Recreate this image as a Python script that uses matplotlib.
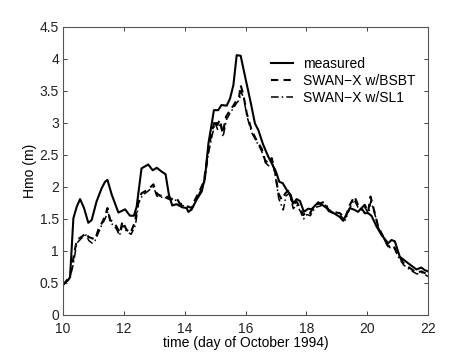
"""
Significant wave height, measured vs two SWAN-X runs, October 1994.
Values read by eye off the published figure.
"""

import matplotlib

matplotlib.use("Agg")
import matplotlib.pyplot as plt

plt.rcParams["font.family"] = ["Liberation Sans", "DejaVu Sans"]

# measured
t_meas = [10.0, 10.18, 10.23, 10.34, 10.45, 10.56, 10.69, 10.83, 10.94, 11.1,
          11.27, 11.38, 11.46, 11.6, 11.82, 12.04, 12.2, 12.33, 12.42, 12.58,
          12.8, 12.95, 13.08, 13.24, 13.37, 13.48, 13.59, 13.73, 13.93, 14.06,
          14.12, 14.23, 14.39, 14.56, 14.67, 14.78, 14.89, 14.96, 15.1, 15.21,
          15.38, 15.49, 15.6, 15.71, 15.84, 16.01, 16.17, 16.31, 16.42, 16.58,
          16.75, 16.86, 17.0, 17.11, 17.22, 17.37, 17.48, 17.57, 17.68, 17.79,
          17.92, 18.06, 18.17, 18.39, 18.61, 18.77, 19.1, 19.21, 19.43, 19.59,
          19.7, 19.81, 19.92, 20.03, 20.14, 20.31, 20.47, 20.69, 20.8, 20.91,
          21.07, 21.34, 21.62, 21.78, 21.89, 22.0]
h_meas = [0.47, 0.55, 0.59, 1.51, 1.69, 1.81, 1.67, 1.44, 1.48, 1.77,
          1.98, 2.08, 2.11, 1.88, 1.60, 1.65, 1.55, 1.55, 1.69, 2.29,
          2.35, 2.26, 2.30, 2.24, 2.20, 1.88, 1.71, 1.73, 1.68, 1.67,
          1.61, 1.65, 1.80, 1.93, 2.16, 2.68, 2.99, 3.20, 3.20, 3.28,
          3.27, 3.38, 3.59, 4.06, 4.05, 3.67, 3.32, 2.99, 2.89, 2.66,
          2.47, 2.37, 2.24, 2.08, 2.06, 1.94, 1.88, 1.74, 1.81, 1.78,
          1.61, 1.66, 1.65, 1.76, 1.69, 1.63, 1.53, 1.47, 1.67, 1.64,
          1.61, 1.67, 1.59, 1.59, 1.55, 1.38, 1.25, 1.12, 1.17, 1.15,
          0.91, 0.81, 0.71, 0.74, 0.70, 0.68]

# SWAN-X w/BSBT
t_bsbt = [10.0, 10.23, 10.34, 10.45, 10.61, 10.76, 10.83, 10.94, 11.05, 11.16,
          11.27, 11.38, 11.46, 11.55, 11.65, 11.76, 11.87, 11.95, 12.09, 12.22,
          12.37, 12.48, 12.58, 12.69, 12.86, 12.97, 13.08, 13.19, 13.3, 13.41,
          13.63, 13.74, 13.84, 14.0, 14.12, 14.23, 14.34, 14.5, 14.63, 14.78,
          14.89, 15.0, 15.07, 15.16, 15.25, 15.36, 15.49, 15.6, 15.71, 15.79,
          15.84, 15.93, 16.04, 16.2, 16.36, 16.53, 16.64, 16.75, 16.86, 16.97,
          17.08, 17.19, 17.31, 17.42, 17.56, 17.68, 17.79, 17.9, 18.01, 18.12,
          18.28, 18.44, 18.61, 18.72, 18.88, 19.1, 19.27, 19.43, 19.58, 19.7,
          19.81, 19.92, 20.03, 20.11, 20.25, 20.36, 20.53, 20.69, 20.86, 21.02,
          21.19, 21.41, 21.62, 21.78, 22.0]
h_bsbt = [0.47, 0.60, 0.89, 1.17, 1.22, 1.28, 1.22, 1.20, 1.18, 1.33,
          1.43, 1.54, 1.67, 1.48, 1.46, 1.38, 1.28, 1.46, 1.33, 1.28,
          1.46, 1.80, 1.90, 1.93, 1.99, 2.04, 1.90, 1.86, 1.88, 1.85,
          1.80, 1.82, 1.74, 1.72, 1.69, 1.67, 1.80, 1.95, 2.08, 2.58,
          2.86, 3.05, 2.97, 3.05, 2.84, 3.10, 3.20, 3.27, 3.36, 3.41,
          3.59, 3.44, 3.15, 2.89, 2.73, 2.60, 2.42, 2.37, 2.45, 2.24,
          1.90, 1.80, 1.90, 1.95, 1.72, 1.77, 1.67, 1.56, 1.61, 1.59,
          1.72, 1.74, 1.77, 1.64, 1.61, 1.59, 1.51, 1.72, 1.85, 1.72,
          1.67, 1.72, 1.61, 1.85, 1.59, 1.38, 1.22, 1.07, 1.09, 0.94,
          0.81, 0.73, 0.66, 0.68, 0.63]

# SWAN-X w/SL1
t_sl1 = [10.0, 10.23, 10.34, 10.45, 10.61, 10.76, 10.85, 10.96, 11.05, 11.16,
         11.27, 11.38, 11.48, 11.56, 11.66, 11.76, 11.86, 11.95, 12.1, 12.24,
         12.38, 12.48, 12.6, 12.7, 12.86, 12.98, 13.08, 13.2, 13.3, 13.42,
         13.62, 13.75, 13.86, 14.0, 14.1, 14.22, 14.34, 14.5, 14.64, 14.78,
         14.9, 15.0, 15.08, 15.17, 15.26, 15.37, 15.5, 15.61, 15.72, 15.8,
         15.85, 15.94, 16.05, 16.2, 16.37, 16.53, 16.65, 16.76, 16.87, 16.98,
         17.09, 17.24, 17.33, 17.44, 17.57, 17.68, 17.8, 17.91, 18.02, 18.13,
         18.29, 18.45, 18.6, 18.73, 18.9, 19.1, 19.28, 19.44, 19.57, 19.7,
         19.82, 19.93, 20.04, 20.12, 20.26, 20.37, 20.54, 20.7, 20.87, 21.03,
         21.2, 21.42, 21.63, 21.8, 22.0]
h_sl1 = [0.47, 0.58, 0.80, 1.12, 1.20, 1.25, 1.16, 1.12, 1.16, 1.28,
         1.40, 1.50, 1.62, 1.44, 1.40, 1.34, 1.24, 1.40, 1.30, 1.26,
         1.40, 1.74, 1.86, 1.90, 1.96, 2.00, 1.86, 1.83, 1.85, 1.82,
         1.78, 1.80, 1.72, 1.70, 1.66, 1.64, 1.76, 1.92, 2.05, 2.52,
         2.80, 3.00, 2.90, 3.00, 2.78, 3.05, 3.16, 3.24, 3.32, 3.36,
         3.50, 3.38, 3.10, 2.85, 2.70, 2.56, 2.38, 2.33, 2.40, 2.18,
         1.82, 1.64, 1.86, 1.90, 1.66, 1.72, 1.62, 1.50, 1.57, 1.55,
         1.68, 1.70, 1.74, 1.62, 1.58, 1.56, 1.48, 1.68, 1.80, 1.68,
         1.64, 1.68, 1.58, 1.78, 1.56, 1.36, 1.20, 1.05, 1.06, 0.90,
         0.78, 0.70, 0.64, 0.66, 0.60]

fig = plt.figure(figsize=(4.74, 3.55), dpi=100)
ax = fig.add_axes([0.133, 0.113, 0.770, 0.811])

ax.plot(t_meas, h_meas, color="black", lw=1.5, ls="-", label="measured")
ax.plot(t_bsbt, h_bsbt, color="black", lw=1.5, ls=(0, (3.5, 2.5)),
        label="SWAN\u2212X w/BSBT")
ax.plot(t_sl1, h_sl1, color="black", lw=1.1, ls=(0, (5, 2, 1, 2)),
        label="SWAN\u2212X w/SL1")

ax.set_xlim(10, 22)
ax.set_ylim(0, 4.5)
ax.set_xticks([10, 12, 14, 16, 18, 20, 22])
ax.set_yticks([0, 0.5, 1, 1.5, 2, 2.5, 3, 3.5, 4, 4.5])
ax.set_yticklabels(["0", "0.5", "1", "1.5", "2", "2.5", "3", "3.5", "4", "4.5"])
ax.tick_params(direction="in", top=True, right=True, labelsize=10,
               length=3, width=0.6, colors="#222222")
ax.tick_params(axis="x", pad=5)
ax.tick_params(axis="y", pad=3)
for spine in ax.spines.values():
    spine.set_color("#555555")
    spine.set_linewidth(0.8)

ax.set_xlabel("time (day of October 1994)", fontsize=10, labelpad=0)
ax.set_ylabel("Hmo (m)", fontsize=10, labelpad=2)

ax.legend(loc="upper right", bbox_to_anchor=(0.98, 0.915), frameon=False,
          fontsize=10, handlelength=1.6, handletextpad=0.7,
          labelspacing=0.2, borderaxespad=0)

fig.savefig("out.png", dpi=100, facecolor="white")
